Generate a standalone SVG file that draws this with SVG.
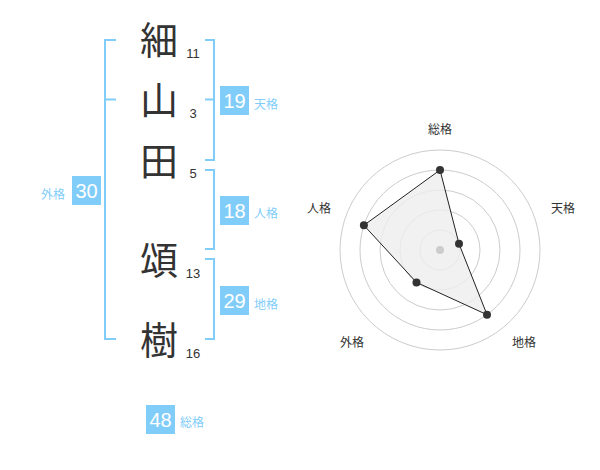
<svg xmlns="http://www.w3.org/2000/svg" width="600" height="470" viewBox="0 0 600 470">
<style>
text{font-family:"Liberation Sans","Noto Sans CJK JP",sans-serif}
.k{font-family:"Noto Sans CJK JP",sans-serif;font-size:38px;fill:#333;text-anchor:middle}
.s{font-size:13px;fill:#333;text-anchor:middle}
.br{fill:none;stroke:#81cdfa;stroke-width:2}
.box{fill:#81cdfa}
.bn{font-size:20px;fill:#fff;text-anchor:middle}
.bl{font-family:"Noto Sans CJK JP",sans-serif;font-size:12px;fill:#81cdfa}
.ring{fill:none;stroke:#cccccc;stroke-width:1}
.rl{font-family:"Noto Sans CJK JP",sans-serif;font-size:12px;fill:#333;text-anchor:middle}
.dot{fill:#333}
</style>
<rect width="600" height="470" fill="#fff"/>
<g id="connectors">
<path class="br" d="M116,40 H105 V339 H116 M105,99.5 H116"/>
<path class="br" d="M205,40 H214 V160 H205 M205,99.5 H214"/>
<path class="br" d="M205,170 H214 V249 H205"/>
<path class="br" d="M205,259 H214 V339 H205"/>
</g>
<g id="char1"><text class="k" x="159" y="54">細</text><text class="s" x="193" y="57.5">11</text></g>
<g id="char2"><text class="k" x="159" y="114">山</text><text class="s" x="193" y="118">3</text></g>
<g id="char3"><text class="k" x="159" y="175">田</text><text class="s" x="193" y="177.5">5</text></g>
<g id="char4"><text class="k" x="159" y="274">頌</text><text class="s" x="193" y="278">13</text></g>
<g id="char5"><text class="k" x="159" y="354">樹</text><text class="s" x="193" y="358">16</text></g>
<g id="tenkaku"><rect class="box" x="220" y="86" width="29" height="29"/><text class="bn" x="234.5" y="107.5">19</text><text class="bl" x="254" y="108.5">天格</text></g>
<g id="jinkaku"><rect class="box" x="220" y="196" width="29" height="29"/><text class="bn" x="234.5" y="217.5">18</text><text class="bl" x="254" y="218">人格</text></g>
<g id="chikaku"><rect class="box" x="220" y="286" width="29" height="29"/><text class="bn" x="234.5" y="307.5">29</text><text class="bl" x="254" y="308.5">地格</text></g>
<g id="gaikaku"><rect class="box" x="72" y="176" width="29" height="29"/><text class="bn" x="86.5" y="197.5">30</text><text class="bl" x="41" y="198.5">外格</text></g>
<g id="soukaku"><rect class="box" x="146" y="405" width="29" height="29"/><text class="bn" x="160.5" y="426.5">48</text><text class="bl" x="180" y="427">総格</text></g>
<g id="radar">
<circle class="ring" cx="440" cy="250" r="20"/>
<circle class="ring" cx="440" cy="250" r="40"/>
<circle class="ring" cx="440" cy="250" r="60"/>
<circle class="ring" cx="440" cy="250" r="80"/>
<circle class="ring" cx="440" cy="250" r="100"/>
<polygon points="440,170 459,243.8 487,314.7 416.5,282.4 363.9,225.3" fill="#eeeeee" fill-opacity="0.8" stroke="#222" stroke-width="1"/>
<circle cx="440" cy="250" r="4" fill="#cccccc"/>
<circle class="dot" cx="440" cy="170" r="4"/>
<circle class="dot" cx="459" cy="243.8" r="4"/>
<circle class="dot" cx="487" cy="314.7" r="4"/>
<circle class="dot" cx="416.5" cy="282.4" r="4"/>
<circle class="dot" cx="363.9" cy="225.3" r="4"/>
<text class="rl" x="440" y="134">総格</text>
<text class="rl" x="563" y="213">天格</text>
<text class="rl" x="319" y="213">人格</text>
<text class="rl" x="352" y="346.5">外格</text>
<text class="rl" x="524" y="346.5">地格</text>
</g>
</svg>
